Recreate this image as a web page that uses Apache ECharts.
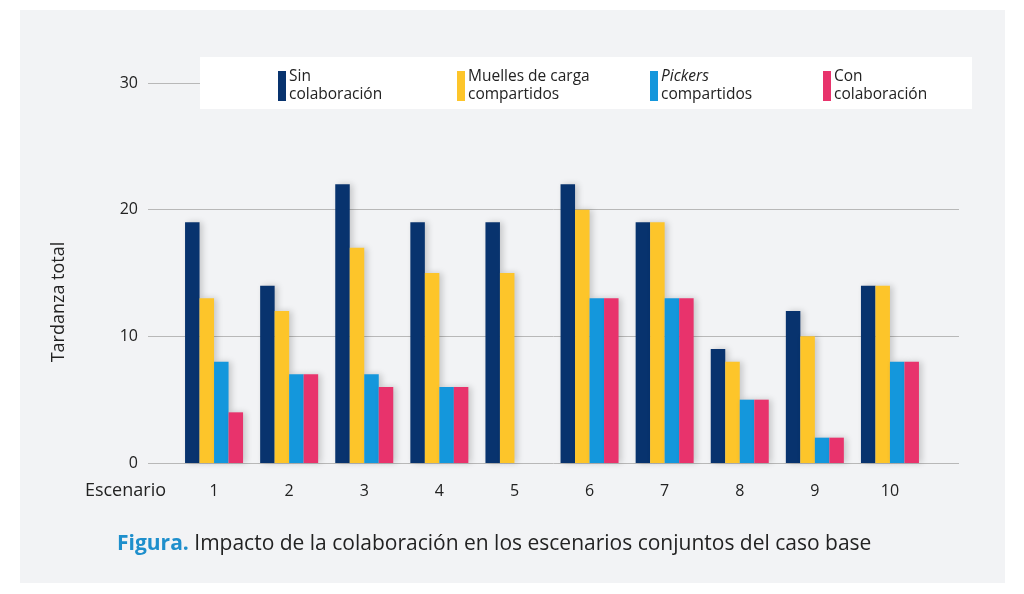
<!DOCTYPE html>
<html><head><meta charset="utf-8">
<script src="https://cdn.jsdelivr.net/npm/echarts@6/dist/echarts.min.js"></script>
<style>html,body{margin:0;padding:0;background:#fff}#c{width:1024px;height:594px}</style>
</head><body><div id="c"></div>
<script>
const categories = ['1','2','3','4','5','6','7','8','9','10'];
const sinColaboracion = [19,14,22,19,19,22,19,9,12,14];
const muellesCompartidos = [13,12,17,15,15,20,19,8,10,14];
const pickersCompartidos = [8,7,7,6,0,13,13,5,2,8];
const conColaboracion = [4,7,6,6,0,13,13,5,2,8];
const yTicks = [0,10,20,30];
const seriesNames = ['Sin colaboración','Muelles de carga compartidos','Pickers compartidos','Con colaboración'];
const colors = ['#08336e','#fdc52a','#1497dc','#e8336c'];

const FONT = '"Open Sans", Lato, sans-serif';
const chart = echarts.init(document.getElementById('c'));
const shadow = {shadowColor:'rgba(0,0,0,0.18)', shadowBlur:6, shadowOffsetX:3, shadowOffsetY:0};
const values = [sinColaboracion, muellesCompartidos, pickersCompartidos, conColaboracion];
const legendLabels = {
  'Sin colaboración': 'Sin\ncolaboración',
  'Muelles de carga compartidos': 'Muelles de carga\ncompartidos',
  'Pickers compartidos': '{i|Pickers}\ncompartidos',
  'Con colaboración': 'Con\ncolaboración'
};
const legendLeft = [273, 452, 645, 818];
chart.setOption({
  backgroundColor: '#ffffff',
  animation: false,
  color: colors,
  graphic: [
    {type:'rect', z:-10, shape:{x:20,y:10,width:985,height:573}, style:{fill:'#f2f3f5'}},
    {type:'rect', z:1, shape:{x:200,y:57,width:772,height:52}, style:{fill:'#ffffff'}},
    {type:'text', left:117, top:534, style:{text:'{b|Figura.} Impacto de la colaboración en los escenarios conjuntos del caso base',
      rich:{b:{fontFamily:FONT,fontSize:21,fontWeight:'bold',fill:'#1e8fcc',color:'#1e8fcc'}},
      fontFamily:FONT, fontSize:21, fill:'#222'}},
    {type:'text', x:59, y:302, rotation:Math.PI/2, style:{text:'Tardanza total', fontFamily:FONT, fontSize:18, fill:'#222', align:'center', verticalAlign:'middle'}},
    {type:'text', x:166, y:491, style:{text:'Escenario', fontFamily:FONT, fontSize:18, fill:'#222', align:'right', verticalAlign:'middle'}}
  ],
  legend: seriesNames.map((n,i)=>({
    data:[n], left: legendLeft[i], top: 63, icon:'rect', itemWidth:8, itemHeight:30, itemGap:0, z:5,
    formatter: (name)=>legendLabels[name],
    textStyle:{fontFamily:FONT, fontSize:15.5, color:'#222', lineHeight:18, padding:[0,0,0,-2],
      rich:{i:{fontStyle:'italic', fontFamily:FONT, fontSize:15.5, color:'#222', lineHeight:18}}}
  })),
  grid: [
    {left:148, right:1024-959, top:83, bottom:594-463},
    {left:176.5, right:1024-927.5, top:83, bottom:594-463}
  ],
  xAxis: [
    {type:'value', gridIndex:0, min:0, max:1, show:false},
    {type:'category', gridIndex:1, data:categories, axisLine:{show:false}, axisTick:{show:false},
     axisLabel:{fontFamily:FONT, fontSize:16, color:'#222', margin:20}}
  ],
  yAxis: [
    {type:'value', gridIndex:0, min:0, max:30, interval:10,
     axisLine:{show:false}, axisTick:{show:false},
     axisLabel:{fontFamily:FONT, fontSize:16, color:'#222', margin:10,
       formatter:(v)=> yTicks.includes(v) ? String(v) : ''},
     splitLine:{lineStyle:{color:'#b8b8b8', width:1}}},
    {type:'value', gridIndex:1, min:0, max:30, interval:10, show:false}
  ],
  series: values.map((d,i)=>({
    name: seriesNames[i], type:'bar', xAxisIndex:1, yAxisIndex:1, data:d,
    barWidth:14.5, barGap:'0%', itemStyle:Object.assign({color:colors[i]}, shadow)
  }))
});
</script></body></html>
